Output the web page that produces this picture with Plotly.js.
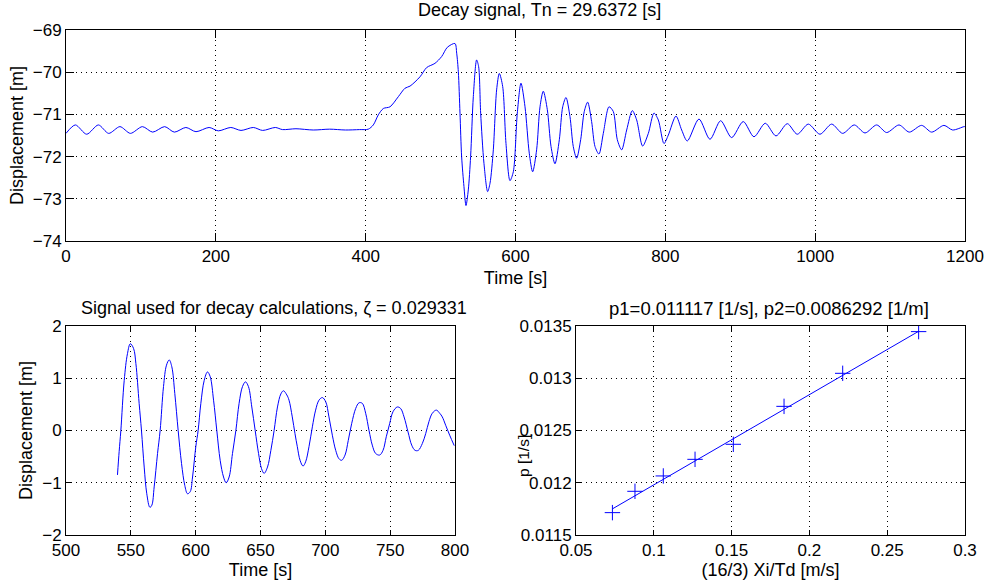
<!DOCTYPE html>
<html>
<head>
<meta charset="utf-8">
<script src="https://cdn.plot.ly/plotly-3.0.1.min.js"></script>
<style>html,body{margin:0;padding:0;background:#fff;}#chart{width:987px;height:588px;}</style>
</head>
<body>
<div id="chart"></div>
<script>
// ---- Top: full decay signal ----
const decayTime = [0,12.5,27.6,43.2,57,72,86,102,115.7,131.7,144.6,160,173.5,191,203.3,220,233.6,250,262.5,279.4,289,307,330,352,373,392,403.5,
  410.2,416.9,423.6,432.5,443.6,452.5,459.2,472.5,481.4,492.5,501.4,509,519.2,521.5,523.7,525.9,528.1,531.2,533.9,537,540.1,543.7,548.1,550.8,553.5,557.9,562.8,566,
  570.4,574.8,578.4,582.9,587.3,592.6,597.1,602.4,607.3,612.7,618.4,622.9,628.2,632.7,637.1,642.5,647.4,652.7,658.5,663,667.4,672.7,677.1,681.6,687,691.8,696.3,701.6,706.1,711.4,717.2,724.8,730.5,735.9,741.7,748.4,755.9,761.7,769.7,777.3,784.8,790.6,798.2,804,814.2,821.8,829.3,
  844.9,859.6,873.8,888.5,904,918.3,933.4,947.7,962.8,976.1,990.8,1006.4,1022,1036.7,1052.2,1066.5,1082.1,1095.4,1111.9,1125.6,1142.1,1155.5,1171.9,1183.5,1198.6,1200];
const decayDisp = [-71.45,-71.25,-71.47,-71.25,-71.45,-71.29,-71.45,-71.29,-71.42,-71.29,-71.42,-71.31,-71.41,-71.31,-71.39,-71.31,-71.38,-71.31,-71.38,-71.31,-71.36,-71.34,-71.37,-71.35,-71.37,-71.36,-71.35,
  -71.25,-71.01,-70.86,-70.82,-70.58,-70.38,-70.33,-70.11,-69.89,-69.79,-69.63,-69.41,-69.32,-69.55,-69.99,-70.97,-72.0,-72.71,-73.16,-72.79,-72.0,-70.58,-69.71,-69.87,-70.97,-72.16,-72.83,-72.63,
  -71.84,-70.42,-70.03,-70.34,-71.69,-72.57,-72.36,-70.97,-70.26,-70.82,-71.92,-72.36,-71.84,-70.82,-70.45,-70.89,-71.76,-72.17,-71.6,-70.82,-70.6,-71.05,-71.76,-72.04,-71.6,-70.93,-70.71,-71.17,-71.76,-71.94,-71.45,-70.82,-70.93,-71.6,-71.84,-71.37,-70.91,-71.13,-71.75,-71.45,-70.97,-71.13,-71.69,-71.49,-71.04,-71.37,-71.63,
  -71.11,-71.59,-71.15,-71.55,-71.17,-71.53,-71.21,-71.51,-71.22,-71.47,-71.23,-71.47,-71.23,-71.45,-71.25,-71.44,-71.25,-71.43,-71.25,-71.42,-71.26,-71.42,-71.26,-71.37,-71.29,-71.29];

// ---- Bottom left: signal used for decay calculations ----
const calcTime = [539.7,541.0,542.3,544.9,547.4,549.6,552.1,553.9,556.4,558.2,560.3,562.3,564.7,566.2,568.0,570.6,572.6,575.2,577.5,579.6,581.6,583.9,586.5,589.1,591.6,593.7,595.8,597.6,600.1,601.9,604.0,606.6,609.1,611.2,613.8,616.3,618.9,621.5,623.5,625.8,628.4,631.0,633.5,636.1,638.4,640.7,643.3,645.9,648.5,650.8,652.8,655.4,658.0,660.5,663.1,665.7,667.7,670.3,672.0,674.5,676.6,678.4,680.5,682.8,684.8,687.4,690.0,692.5,695.1,697.7,700.3,702.8,705.4,708.0,710.5,712.6,715.2,717.7,720.3,723.4,726.0,728.5,731.1,733.7,736.2,738.8,741.9,744.5,747.0,749.6,752.2,755.5,758.1,760.7,763.8,766.6,769.2,771.7,774.8,777.4,779.9,782.5,785.6,788.2,790.2,792.8,795.9,799.4];
const calcDisp = [-0.85,-0.40,0.0,0.96,1.47,1.66,1.57,1.28,0.52,0.0,-0.70,-1.21,-1.47,-1.43,-1.08,-0.44,0.0,0.84,1.25,1.35,1.22,0.71,0.0,-0.63,-1.05,-1.21,-1.17,-0.89,-0.31,0.0,0.52,0.96,1.12,1.03,0.58,0.0,-0.57,-0.89,-1.00,-0.89,-0.44,0.0,0.52,0.84,0.93,0.84,0.45,0.0,-0.44,-0.73,-0.82,-0.70,-0.38,0.0,0.45,0.70,0.76,0.68,0.58,0.26,-0.06,-0.31,-0.57,-0.68,-0.60,-0.31,0.07,0.39,0.58,0.63,0.55,0.26,-0.09,-0.38,-0.54,-0.57,-0.47,-0.19,0.13,0.42,0.53,0.52,0.33,0.0,-0.28,-0.44,-0.47,-0.38,-0.12,0.13,0.36,0.45,0.42,0.26,-0.03,-0.28,-0.38,-0.38,-0.25,-0.06,0.17,0.33,0.39,0.33,0.26,0.10,-0.09,-0.29];

// ---- Bottom right: p versus (16/3) Xi/Td ----
const pX = [0.0734,0.0879,0.1061,0.1265,0.1511,0.1837,0.2214,0.2702];
const pY = [0.011714,0.011918,0.012065,0.012224,0.012368,0.012731,0.013047,0.013446];
const fitX = [0.0734,0.2702];
const fitY = [0.011750,0.013449];

// tick values / labels
const topXTicks = [0,200,400,600,800,1000,1200];
const topYTicks = [-74,-73,-72,-71,-70,-69];
const blXTicks = [500,550,600,650,700,750,800];
const blYTicks = [-2,-1,0,1,2];
const brXTicks = [0.05,0.1,0.15,0.2,0.25,0.3];
const brXLabels = ["0.05","0.1","0.15","0.2","0.25","0.3"];
const brYTicks = [0.0115,0.012,0.0125,0.013,0.0135];
const brYLabels = ["0.0115","0.012","0.0125","0.013","0.0135"];

const titles = ["Decay signal, Tn = 29.6372 [s]",
                "Signal used for decay calculations, \u03B6 = 0.029331",
                "p1=0.011117 [1/s], p2=0.0086292 [1/m]"];

const FAM = "Liberation Sans, Arial, sans-serif";
const TICKFONT = {family: FAM, size: 17, color: "#000"};
const LABFONT = {family: FAM, size: 18, color: "#000"};
const BLUE = "#0000ff";

function axis(extra) {
  return Object.assign({
    showline: true, mirror: "ticks", linecolor: "#000", linewidth: 1,
    ticks: "inside", tickcolor: "#000", tickwidth: 1,
    showgrid: true, gridcolor: "#000", gridwidth: 1, griddash: "1px,4px",
    zeroline: false, tickfont: TICKFONT, fixedrange: true
  }, extra);
}

const data = [
  {x: decayTime, y: decayDisp, xaxis: "x", yaxis: "y", type: "scatter", mode: "lines",
   line: {color: BLUE, width: 1, shape: "spline", smoothing: 0.8}, hoverinfo: "skip"},
  {x: calcTime, y: calcDisp, xaxis: "x2", yaxis: "y2", type: "scatter", mode: "lines",
   line: {color: BLUE, width: 1, shape: "spline", smoothing: 1}, hoverinfo: "skip"},
  {x: pX, y: pY, xaxis: "x3", yaxis: "y3", type: "scatter", mode: "markers",
   marker: {symbol: "cross-thin-open", size: 11, color: BLUE, line: {color: BLUE, width: 1}}, hoverinfo: "skip"},
  {x: fitX, y: fitY, xaxis: "x3", yaxis: "y3", type: "scatter", mode: "lines",
   line: {color: BLUE, width: 1}, hoverinfo: "skip"}
];

const layout = {
  width: 987, height: 588,
  margin: {l: 66, r: 22, t: 30, b: 53},
  paper_bgcolor: "#fff", plot_bgcolor: "#fff",
  showlegend: false, font: LABFONT,
  xaxis: axis({domain: [0, 1], anchor: "y", range: [0, 1200], tickvals: topXTicks, ticklen: 8,
               title: {text: "Time [s]", font: LABFONT, standoff: 6}}),
  yaxis: axis({domain: [0.5822, 1], anchor: "x", range: [-74, -69], tickvals: topYTicks, ticklen: 8,
               title: {text: "Displacement [m]", font: LABFONT, standoff: 4}}),
  xaxis2: axis({domain: [0, 0.4327], anchor: "y2", range: [500, 800], tickvals: blXTicks, ticklen: 5,
               title: {text: "Time [s]", font: LABFONT, standoff: 3}}),
  yaxis2: axis({domain: [0, 0.4139], anchor: "x2", range: [-2, 2], tickvals: blYTicks, ticklen: 5,
               title: {text: "Displacement [m]", font: LABFONT, standoff: 4}}),
  xaxis3: axis({domain: [0.5673, 1], anchor: "y3", range: [0.05, 0.3], tickvals: brXTicks, ticktext: brXLabels, ticklen: 5,
               title: {text: "(16/3) Xi/Td [m/s]", font: LABFONT, standoff: 3}}),
  yaxis3: axis({domain: [0, 0.4139], anchor: "x3", range: [0.0115, 0.0135], tickvals: brYTicks, ticktext: brYLabels, ticklen: 5}),
  annotations: [
    {text: titles[0], xref: "x domain", yref: "paper", x: 0.5, xshift: 24, y: 1.0396, xanchor: "center", yanchor: "middle", showarrow: false, font: LABFONT},
    {text: titles[1], xref: "x2 domain", yref: "paper", x: 0.5, xshift: 14, y: 0.4495, xanchor: "center", yanchor: "middle", showarrow: false, font: LABFONT},
    {text: titles[2], xref: "x3 domain", yref: "paper", x: 0.5, xshift: -2, y: 0.4495, xanchor: "center", yanchor: "middle", showarrow: false, font: {family: FAM, size: 18.5, color: "#000"}},
    {text: "p [1/s]", xref: "paper", yref: "paper", x: 0.5083, y: 0.1564, xanchor: "center", yanchor: "middle", textangle: -90, showarrow: false, font: {family: FAM, size: 15.5, color: "#000"}}
  ]
};

Plotly.newPlot("chart", data, layout, {staticPlot: true, displayModeBar: false});
</script>
</body>
</html>
